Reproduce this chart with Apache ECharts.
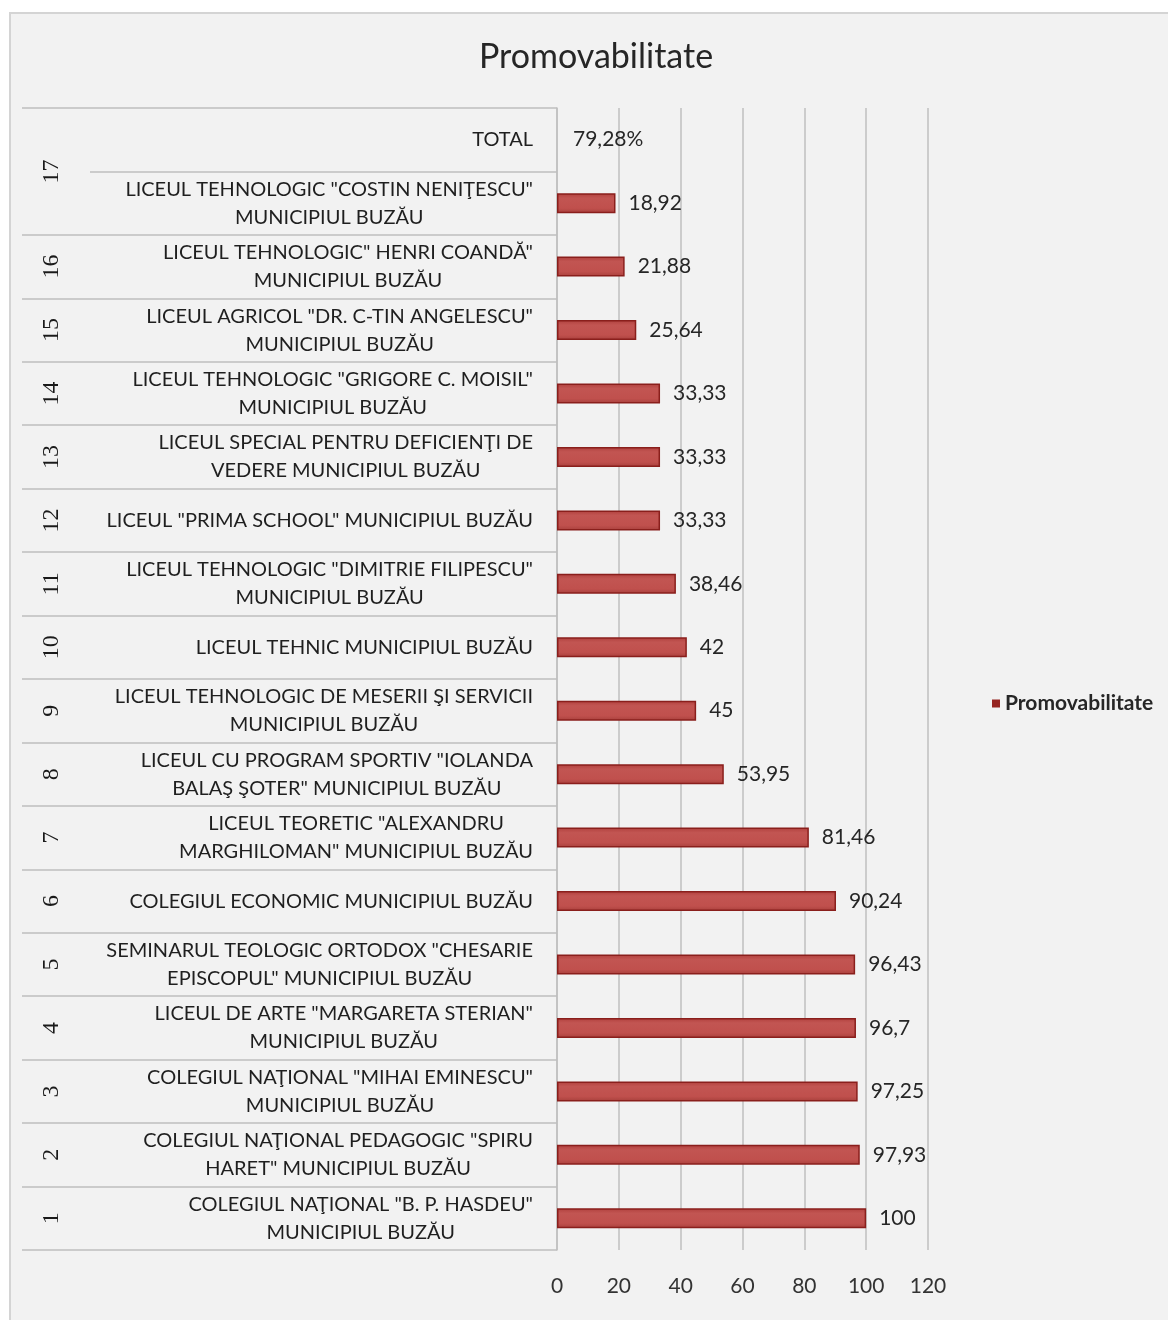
<!DOCTYPE html>
<html>
<head>
<meta charset="utf-8">
<script src="https://cdn.jsdelivr.net/npm/echarts@6/dist/echarts.min.js"></script>
<style>
  html, body { margin: 0; padding: 0; background: #ffffff; }
  #frame { position: absolute; left: 9px; top: 12px; width: 1180px; height: 1330px;
           border: 2px solid #d4d4d4; background: #f2f2f2; box-sizing: border-box; }
  #chart { position: absolute; left: 0; top: 0; width: 1168px; height: 1320px; }
</style>
</head>
<body>
<div id="frame"></div>
<div id="chart"></div>
<script>
// Rows listed bottom to top (row 1 at the bottom)
const schools = [
  'COLEGIUL NAŢIONAL "B. P. HASDEU"\nMUNICIPIUL BUZĂU',
  'COLEGIUL NAŢIONAL PEDAGOGIC "SPIRU\nHARET" MUNICIPIUL BUZĂU',
  'COLEGIUL NAŢIONAL "MIHAI EMINESCU"\nMUNICIPIUL BUZĂU',
  'LICEUL DE ARTE "MARGARETA STERIAN"\nMUNICIPIUL BUZĂU',
  'SEMINARUL TEOLOGIC ORTODOX "CHESARIE\nEPISCOPUL" MUNICIPIUL BUZĂU',
  'COLEGIUL ECONOMIC MUNICIPIUL BUZĂU',
  'LICEUL TEORETIC "ALEXANDRU\nMARGHILOMAN" MUNICIPIUL BUZĂU',
  'LICEUL CU PROGRAM SPORTIV "IOLANDA\nBALAŞ ŞOTER" MUNICIPIUL BUZĂU',
  'LICEUL TEHNOLOGIC DE MESERII ŞI SERVICII\nMUNICIPIUL BUZĂU',
  'LICEUL TEHNIC MUNICIPIUL BUZĂU',
  'LICEUL TEHNOLOGIC "DIMITRIE FILIPESCU"\nMUNICIPIUL BUZĂU',
  'LICEUL "PRIMA SCHOOL" MUNICIPIUL BUZĂU',
  'LICEUL SPECIAL PENTRU DEFICIENŢI DE\nVEDERE MUNICIPIUL BUZĂU',
  'LICEUL TEHNOLOGIC "GRIGORE C. MOISIL"\nMUNICIPIUL BUZĂU',
  'LICEUL AGRICOL "DR. C-TIN ANGELESCU"\nMUNICIPIUL BUZĂU',
  'LICEUL TEHNOLOGIC" HENRI COANDĂ"\nMUNICIPIUL BUZĂU',
  'LICEUL TEHNOLOGIC "COSTIN NENIŢESCU"\nMUNICIPIUL BUZĂU'
];
const promovabilitate = [100, 97.93, 97.25, 96.7, 96.43, 90.24, 81.46, 53.95, 45, 42, 38.46, 33.33, 33.33, 33.33, 25.64, 21.88, 18.92];
const totalLabel = 'TOTAL';
const totalText = '79,28%';
// outer grouping level (numbers) and how many rows each spans
const groupLabels = ['1','2','3','4','5','6','7','8','9','10','11','12','13','14','15','16','17'];
const groupSpans  = [1,1,1,1,1,1,1,1,1,1,1,1,1,1,1,1,2];
const xTicks = { min: 0, max: 120, interval: 20 };
const seriesName = 'Promovabilitate';

const categories = schools.concat([totalLabel]);
const rowCount = categories.length;

// group boundaries and centres (in row units)
const boundaries = [0];
const centres = [];
let acc = 0;
groupSpans.forEach(function (s) { centres.push(acc + s / 2); acc += s; boundaries.push(acc); });
const centreMap = {};
centres.forEach(function (c, i) { centreMap[c] = groupLabels[i]; });

const fmt = function (v) { return String(v).replace('.', ','); };

const barData = promovabilitate.map(function (v) { return { value: v }; });
barData.push({
  value: 0,
  itemStyle: { color: 'transparent', borderWidth: 0 },
  label: { formatter: totalText, distance: 16 }
});

const FONT = 'Lato, "Open Sans", sans-serif';

const chart = echarts.init(document.getElementById('chart'), null, { renderer: 'canvas' });
chart.setOption({
  backgroundColor: 'transparent',
  animation: false,
  title: {
    text: seriesName,
    left: 591, top: 35, textAlign: 'center',
    textStyle: { fontFamily: FONT, fontSize: 34, fontWeight: 'normal', color: '#262626' }
  },
  legend: {
    data: [{ name: seriesName, itemStyle: { color: '#962521', borderWidth: 0 } }],
    left: 987, top: 688,
    icon: 'rect', itemWidth: 8, itemHeight: 8, itemGap: 6,
    textStyle: { fontFamily: FONT, fontSize: 21, fontWeight: 'bold', color: '#262626' }
  },
  grid: { left: 557, right: 240, top: 108, bottom: 70, containLabel: false },
  xAxis: {
    type: 'value', min: xTicks.min, max: xTicks.max, interval: xTicks.interval,
    axisLine: { show: false }, axisTick: { show: false },
    axisLabel: { fontFamily: FONT, fontSize: 21, color: '#333333', margin: 26 },
    splitLine: { show: true, lineStyle: { color: '#bfbfbf', width: 1.5 } }
  },
  yAxis: [
    {
      type: 'category', data: categories, position: 'left',
      axisLine: { show: true, lineStyle: { color: '#bfbfbf', width: 1.5 } },
      axisTick: { show: true, interval: 0, length: 467, lineStyle: { color: '#bfbfbf', width: 1.5 } },
      axisLabel: {
        interval: 0, margin: 24, align: 'right',
        fontFamily: FONT, fontSize: 20, color: '#1f1f1f', lineHeight: 28,
        formatter: function (v) {
          return v.split('\n').map(function (l) { return '{c|' + l + '}'; }).join('\n');
        },
        rich: { c: { align: 'center', fontFamily: FONT, fontSize: 20, color: '#1f1f1f', lineHeight: 28 } }
      },
      splitLine: { show: false }
    },
    {
      type: 'value', min: 0, max: rowCount, position: 'left',
      axisLine: { show: false },
      axisTick: { show: true, customValues: boundaries, length: 535, lineStyle: { color: '#bfbfbf', width: 1.5 } },
      axisLabel: {
        customValues: centres, rotate: 90, margin: 493,
        fontFamily: '"Liberation Serif", "DejaVu Serif", serif', fontSize: 24, color: '#1a1a1a',
        formatter: function (v) { return centreMap[v] || ''; }
      },
      splitLine: { show: false }
    }
  ],
  series: [{
    name: seriesName, type: 'bar', yAxisIndex: 0, barWidth: 20,
    data: barData,
    itemStyle: {
      color: { type: 'linear', x: 0, y: 0, x2: 0, y2: 1, colorStops: [
        { offset: 0, color: '#b0403d' }, { offset: 0.25, color: '#c25552' },
        { offset: 0.75, color: '#c0504d' }, { offset: 1, color: '#a8403c' } ] },
      borderColor: '#8a1f1c', borderWidth: 1.5
    },
    label: {
      show: true, position: 'right', distance: 13,
      fontFamily: FONT, fontSize: 21, color: '#262626',
      formatter: function (p) { return fmt(p.value); }
    }
  }]
});
</script>
</body>
</html>
